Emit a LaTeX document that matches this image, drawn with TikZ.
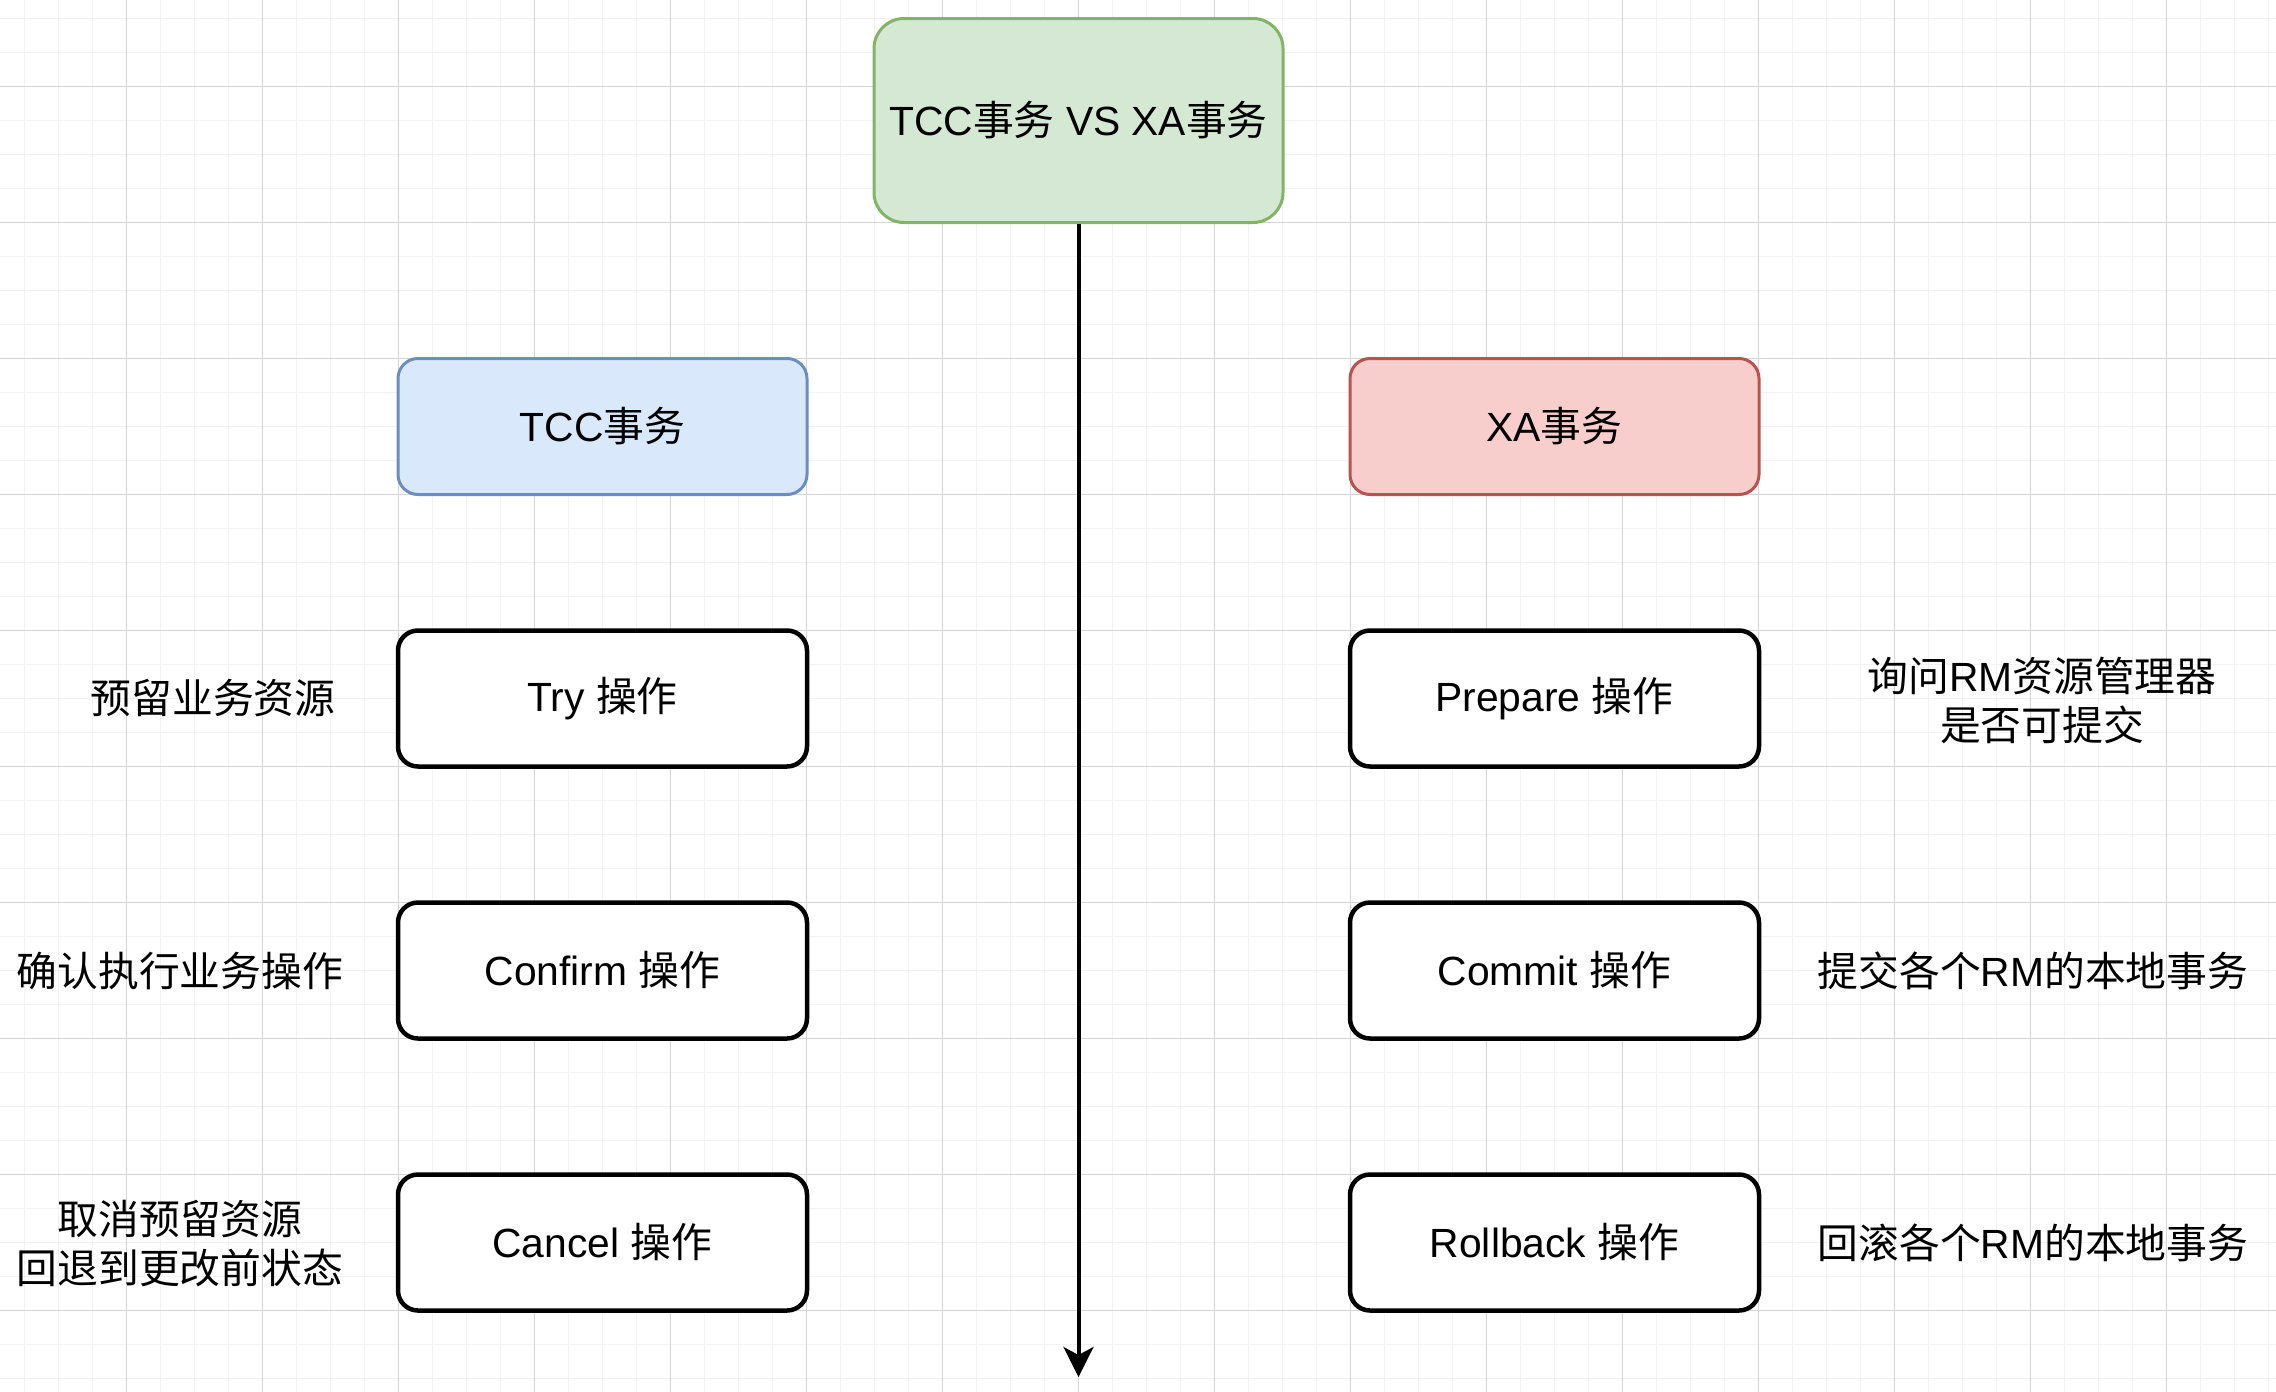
\documentclass[tikz,border=0pt]{standalone}
\usepackage{fontspec}
\setmainfont{Liberation Sans}
\newfontfamily\cjk{Noto Sans CJK SC}
\usetikzlibrary{arrows.meta}
\newcommand\zhtxt[1]{{\cjk #1}}
\definecolor{gridminor}{HTML}{F2F2F2}
\definecolor{gridmajor}{HTML}{D4D4D4}
\definecolor{gfill}{HTML}{D5E8D4}
\definecolor{gdraw}{HTML}{82B366}
\definecolor{bfill}{HTML}{DAE8FC}
\definecolor{bdraw}{HTML}{6C8EBF}
\definecolor{rfill}{HTML}{F8CECC}
\definecolor{rdraw}{HTML}{B85450}
\tikzset{
  txt/.style={font=\fontsize{40.8}{49}\selectfont, text=black},
  basebox/.style={txt, rectangle, inner sep=0pt, minimum width=409pt, minimum height=136pt, align=center},
  mainbox/.style={basebox, minimum height=204pt, rounded corners=30pt, fill=gfill, draw=gdraw, line width=3pt},
  tccbox/.style={basebox, rounded corners=20pt, fill=bfill, draw=bdraw, line width=3pt},
  xabox/.style={basebox, rounded corners=20pt, fill=rfill, draw=rdraw, line width=3pt},
  opbox/.style={basebox, rounded corners=20pt, fill=white, draw=black, line width=4.5pt},
  note/.style={txt, align=center, inner sep=0pt},
  flow/.style={line width=4pt, -{Stealth[length=30pt, width=30pt, inset=8pt]}}
}
\begin{document}
\begin{tikzpicture}[x=1pt, y=-1pt]
\useasboundingbox (0,0) rectangle (2276,1392);
\fill[white] (0,0) rectangle (2276,1392);
% grid
\foreach \i in {0,...,67} {
  \draw[gridminor, line width=1.6pt] ({24.5+34*\i},0) -- ({24.5+34*\i},1392);
}
\foreach \j in {0,...,41} {
  \draw[gridminor, line width=1.6pt] (0,{18.5+34*\j}) -- (2276,{18.5+34*\j});
}
\foreach \i in {0,...,16} {
  \draw[gridmajor, line width=1.2pt] ({126.5+136*\i},0) -- ({126.5+136*\i},1392);
}
\foreach \j in {0,...,9} {
  \draw[gridmajor, line width=1.2pt] (0,{86.5+136*\j}) -- (2276,{86.5+136*\j});
}
% nodes
\node[mainbox] (main) at (1078.5,120.5) {TCC\zhtxt{事务} VS XA\zhtxt{事务}};
\node[tccbox] (tcc) at (602.5,426.5) {TCC\zhtxt{事务}};
\node[xabox] (xa) at (1554.5,426.5) {XA\zhtxt{事务}};
\node[opbox] (try) at (602.5,698.5) {Try \zhtxt{操作}};
\node[opbox] (confirm) at (602.5,970.5) {Confirm \zhtxt{操作}};
\node[opbox] (cancel) at (602.5,1242.5) {Cancel \zhtxt{操作}};
\node[opbox] (prepare) at (1554.5,698.5) {Prepare \zhtxt{操作}};
\node[opbox] (commit) at (1554.5,970.5) {Commit \zhtxt{操作}};
\node[opbox] (rollback) at (1554.5,1242.5) {Rollback \zhtxt{操作}};
% notes
\node[note] (ntry) at (213,698.5) {\zhtxt{预留业务资源}};
\node[note] (nconfirm) at (180,970.5) {\zhtxt{确认执行业务操作}};
\node[note] (ncancel) at (180,1244) {\zhtxt{取消预留资源}\\\zhtxt{回退到更改前状态}};
\node[note] (nprepare) at (2042,700) {\zhtxt{询问}RM\zhtxt{资源管理器}\\\zhtxt{是否可提交}};
\node[note] (ncommit) at (2033,970.5) {\zhtxt{提交各个}RM\zhtxt{的本地事务}};
\node[note] (nrollback) at (2033,1242.5) {\zhtxt{回滚各个}RM\zhtxt{的本地事务}};
% arrow
\coordinate (end) at (1078.5,1377);
\draw[flow] (main.south) -- (end);
\end{tikzpicture}
\end{document}
